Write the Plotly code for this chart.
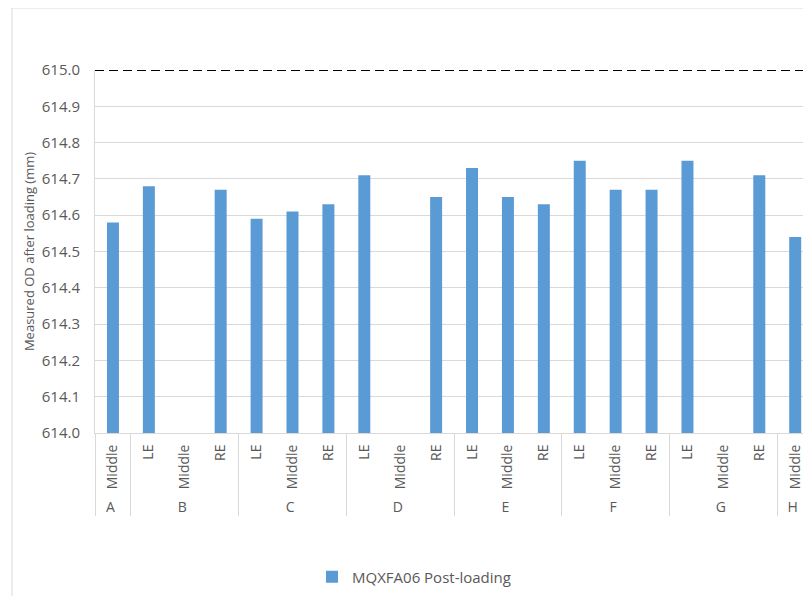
import plotly.graph_objects as go

groups = ["A", "B", "B", "B", "C", "C", "C", "D", "D", "D",
          "E", "E", "E", "F", "F", "F", "G", "G", "G", "H"]
# A's label carries a zero-width space so that Plotly's multicategory ordering
# keeps LE / Middle / RE in their original order inside each group
positions = ["Middle\u200b", "LE", "Middle", "RE", "LE", "Middle", "RE", "LE", "Middle", "RE",
             "LE", "Middle", "RE", "LE", "Middle", "RE", "LE", "Middle", "RE", "Middle"]
values = [614.58, 614.68, None, 614.67, 614.59, 614.61, 614.63, 614.71, None, 614.65,
          614.73, 614.65, 614.63, 614.75, 614.67, 614.67, 614.75, None, 614.71, 614.54]
target = 615.0
series_name = "MQXFA06 Post-loading"
y_title = "Measured OD after loading (mm)"

FONT = "Open Sans"
GRAY = "#595959"

fig = go.Figure()
fig.add_trace(go.Bar(
    x=[groups, positions], y=values, name=series_name,
    marker=dict(color="#5B9BD5", line=dict(width=0)),
    showlegend=True,
))

# page has an 8px body margin, so the figure is offset by 8px
OFF = 8
W, H = 811 - OFF, 596 - OFF
L, T = 95 - OFF, 70 - OFF
R = 0
B = H - (433 - OFF)
pw, ph = W - L - R, H - T - B

fig.add_shape(type="line", xref="paper", yref="y", x0=0, x1=1, y0=target, y1=target,
              line=dict(color="black", width=2, dash="9px,5px"), layer="above")
# chart border
fig.add_shape(type="rect", xref="paper", yref="paper",
              x0=(12 - OFF - L) / pw, x1=1.2, y0=-0.6, y1=1 + (T - (8 - OFF)) / ph,
              line=dict(color="#D9D9D9", width=1), layer="below")

fig.update_layout(
    width=W, height=H,
    margin=dict(l=L, r=R, t=T, b=B, autoexpand=False),
    paper_bgcolor="white", plot_bgcolor="white",
    font=dict(family=FONT, size=14, color=GRAY),
    bargap=0.666,
    legend=dict(orientation="h", x=(312 - OFF - L) / pw, xanchor="left",
                y=-(577 - 433) / ph, yanchor="middle",
                font=dict(size=15, color=GRAY), itemwidth=30),
    xaxis=dict(
        type="multicategory", range=[-0.5, 19.44],
        tickangle=-90, showgrid=False, showline=True, linecolor="#D9D9D9",
        showdividers=True, dividercolor="#D9D9D9", dividerwidth=1,
        tickfont=dict(size=14, color=GRAY), ticks="", ticklabelstandoff=5,
    ),
    yaxis=dict(
        range=[614.0, 615.0], dtick=0.1, tickformat=".1f",
        showgrid=True, gridcolor="#D9D9D9", gridwidth=1,
        showline=True, linecolor="#D9D9D9", zeroline=False,
        tickfont=dict(size=15, color=GRAY), ticks="", ticklabelstandoff=11,
        title=dict(text=y_title, font=dict(size=13, color=GRAY), standoff=4),
    ),
)

fig.write_html("out.html")
